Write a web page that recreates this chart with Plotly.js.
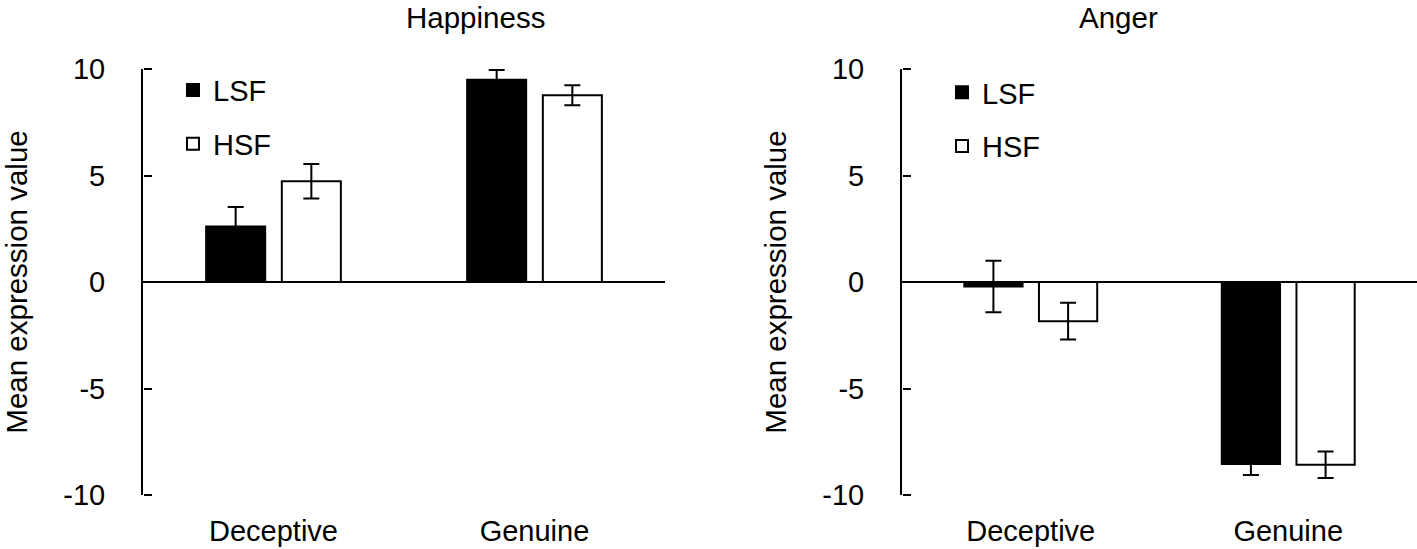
<!DOCTYPE html>
<html>
<head>
<meta charset="utf-8">
<script src="https://cdn.plot.ly/plotly-3.0.1.min.js"></script>
<style>
  html, body { margin: 0; padding: 0; background: #fff; }
  #chart { width: 1417px; height: 549px; }
</style>
</head>
<body>
<div id="chart"></div>
<script>
const categories = ["Deceptive", "Genuine"];
const seriesNames = ["LSF", "HSF"];

// Happiness panel
const happyLSF = [2.61, 9.49];
const happyLSFErr = [0.91, 0.46];
const happyHSF = [4.73, 8.77];
const happyHSFErr = [0.81, 0.47];

// Anger panel
const angerLSF = [-0.21, -8.54];
const angerLSFErr = [1.21, 0.52];
const angerHSF = [-1.84, -8.58];
const angerHSFErr = [0.86, 0.62];

const yTicks = [-10, -5, 0, 5, 10];
const yRange = [-10, 10];
const fontFamily = "Liberation Sans, Arial, sans-serif";

function barTrace(name, y, err, fill, xaxis, yaxis, legend) {
  return {
    type: "bar",
    name: name,
    x: categories,
    y: y,
    xaxis: xaxis,
    yaxis: yaxis,
    legend: legend,
    legendgroup: legend + name,
    marker: { color: fill, line: { color: "black", width: 2 } },
    error_y: {
      type: "data",
      array: err,
      visible: true,
      color: "black",
      thickness: 2,
      width: 8,
    },
  };
}

// empty trace so the tick-only overlay axis gets drawn
function tickHolder(xaxis, yaxis) {
  return {
    type: "scatter",
    mode: "lines",
    x: categories,
    y: categories.map(() => null),
    xaxis: xaxis,
    yaxis: yaxis,
    showlegend: false,
    hoverinfo: "skip",
  };
}

const traces = [
  barTrace(seriesNames[0], happyLSF, happyLSFErr, "black", "x", "y", "legend"),
  barTrace(seriesNames[1], happyHSF, happyHSFErr, "white", "x", "y", "legend"),
  barTrace(seriesNames[0], angerLSF, angerLSFErr, "black", "x2", "y2", "legend2"),
  barTrace(seriesNames[1], angerHSF, angerHSFErr, "white", "x2", "y2", "legend2"),
  tickHolder("x", "y3"),
  tickHolder("x2", "y4"),
];

const xAxisBase = {
  type: "category",
  range: [-0.5, 1.5],
  showline: false,
  showgrid: false,
  zeroline: false,
  ticks: "",
  ticklabelstandoff: 16,
  tickfont: { size: 29, color: "black" },
  fixedrange: true,
};

const yAxisBase = {
  range: yRange,
  tickmode: "array",
  tickvals: yTicks,
  ticktext: yTicks.map(String),
  showline: true,
  linecolor: "black",
  linewidth: 2,
  ticks: "",
  ticklabelstandoff: 30,
  showgrid: false,
  zeroline: true,
  zerolinecolor: "black",
  zerolinewidth: 2,
  tickfont: { size: 29, color: "black" },
  title: { text: "Mean expression value", font: { size: 29.5, color: "black" }, standoff: 27 },
  fixedrange: true,
};

// extra axes only for the tick marks that point into the plot
const tickAxisBase = {
  range: yRange,
  tickmode: "array",
  tickvals: yTicks,
  anchor: "free",
  side: "right",
  ticks: "outside",
  ticklen: 8,
  tickwidth: 2,
  tickcolor: "black",
  showticklabels: false,
  showline: false,
  showgrid: false,
  zeroline: false,
  fixedrange: true,
};

const leftDomain = [143 / 1417, 665 / 1417];
const rightDomain = [902 / 1417, 1];

const legendBase = {
  bgcolor: "rgba(0,0,0,0)",
  font: { size: 29, color: "black" },
  traceorder: "grouped",
  tracegroupgap: 13,
  xanchor: "left",
  yanchor: "top",
};

const layout = {
  width: 1417,
  height: 549,
  margin: { l: 0, r: 0, t: 69, b: 54 },
  paper_bgcolor: "white",
  plot_bgcolor: "white",
  font: { family: fontFamily, color: "black" },
  barmode: "group",
  bargap: 0.42,
  bargroupgap: 0.22,
  xaxis: Object.assign({}, xAxisBase, { domain: leftDomain, anchor: "y" }),
  yaxis: Object.assign({}, yAxisBase, { domain: [0, 1], anchor: "x", title: Object.assign({}, yAxisBase.title, { standoff: 31 }) }),
  xaxis2: Object.assign({}, xAxisBase, { domain: rightDomain, anchor: "y2" }),
  yaxis2: Object.assign({}, yAxisBase, { domain: [0, 1], anchor: "x2" }),
  yaxis3: Object.assign({}, tickAxisBase, { overlaying: "y", position: leftDomain[0] }),
  yaxis4: Object.assign({}, tickAxisBase, { overlaying: "y2", position: rightDomain[0] }),
  legend: Object.assign({}, legendBase, { x: 173 / 1417, y: 1.01 }),
  legend2: Object.assign({}, legendBase, { x: 942 / 1417, y: 1.005 }),
  annotations: [
    {
      text: "Happiness",
      xref: "paper", yref: "paper",
      x: (leftDomain[0] + leftDomain[1]) / 2, y: 1,
      yshift: 52, yanchor: "middle", showarrow: false,
      font: { size: 29.5, color: "black" },
    },
    {
      text: "Anger",
      xref: "paper", yref: "paper",
      x: (rightDomain[0] + rightDomain[1]) / 2, y: 1,
      yshift: 52, yanchor: "middle", showarrow: false,
      font: { size: 29.5, color: "black" },
    },
  ],
};

Plotly.newPlot("chart", traces, layout, { displayModeBar: false });
</script>
</body>
</html>
